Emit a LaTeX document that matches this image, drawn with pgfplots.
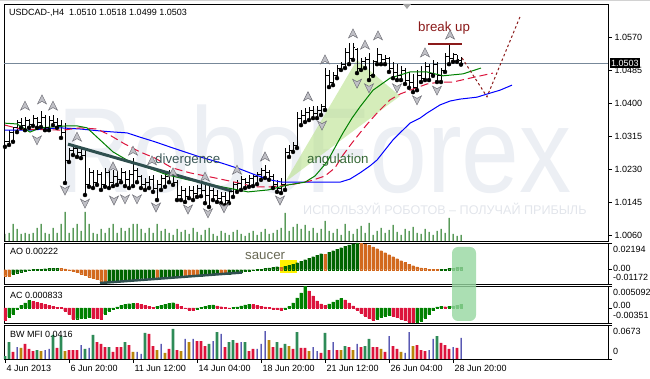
\documentclass[border=0pt]{standalone}
\usepackage{pgfplots}
\pgfplotsset{compat=1.18}
\usepackage{pgfplotstable}
\usepackage{graphicx}
\usepackage{fontspec}
\setmainfont{Liberation Sans}

\definecolor{maBlue}{RGB}{0,0,255}
\definecolor{maRed}{RGB}{220,20,60}
\definecolor{maGreen}{RGB}{0,128,0}
\definecolor{volG}{RGB}{0,100,0}
\definecolor{aoG}{RGB}{0,100,0}
\definecolor{aoO}{RGB}{210,105,30}
\definecolor{acG}{RGB}{0,128,0}
\definecolor{acR}{RGB}{220,20,60}
\definecolor{bwG}{RGB}{46,139,87}
\definecolor{bwR}{RGB}{220,20,60}
\definecolor{bwY}{RGB}{184,134,11}
\definecolor{bwB}{RGB}{0,0,139}
\definecolor{slate}{RGB}{47,79,79}
\definecolor{brk}{RGB}{139,26,26}
\definecolor{divtxt}{RGB}{60,88,88}
\definecolor{angtxt}{RGB}{55,105,55}
\definecolor{sauctxt}{RGB}{105,105,85}
\definecolor{angfill}{RGB}{185,225,140}
\definecolor{pline}{RGB}{119,136,153}
\definecolor{wm}{RGB}{236,239,244}
\definecolor{wmtwo}{RGB}{226,229,235}
\definecolor{fracF}{RGB}{192,192,198}
\definecolor{fracD}{RGB}{110,110,118}
\definecolor{boxG}{RGB}{150,215,160}

\newcommand{\lbl}{\fontsize{9}{10}\selectfont}
\newcommand{\ann}{\fontsize{13.3}{14}\selectfont}

\pgfdeclareplotmark{openL}{\pgfpathmoveto{\pgfqpoint{-1.8pt}{0pt}}\pgfpathlineto{\pgfqpoint{0pt}{0pt}}\pgfusepathqstroke}
\pgfdeclareplotmark{closeR}{\pgfpathmoveto{\pgfqpoint{0pt}{0pt}}\pgfpathlineto{\pgfqpoint{1.8pt}{0pt}}\pgfusepathqstroke}
\pgfdeclareplotmark{fup}{\pgfpathmoveto{\pgfqpoint{0pt}{5pt}}\pgfpathlineto{\pgfqpoint{4.5pt}{-4pt}}\pgfpathlineto{\pgfqpoint{0pt}{-1.5pt}}\pgfpathlineto{\pgfqpoint{-4.5pt}{-4pt}}\pgfpathclose\pgfusepathqfillstroke}
\pgfdeclareplotmark{fdown}{\pgfpathmoveto{\pgfqpoint{0pt}{-5pt}}\pgfpathlineto{\pgfqpoint{4.5pt}{4pt}}\pgfpathlineto{\pgfqpoint{0pt}{1.5pt}}\pgfpathlineto{\pgfqpoint{-4.5pt}{4pt}}\pgfpathclose\pgfusepathqfillstroke}

\pgfplotsset{panel/.style={scale only axis, width=604pt, xmin=-0.25, xmax=150.75, anchor=south west,
  axis line style={black, line width=0.8pt}, tick style={black, line width=0.6pt},
  tick align=outside, major tick length=4pt, ytick pos=right, yticklabel pos=right,
  scaled y ticks=false, scaled x ticks=false,
  xtick=\empty, yticklabel style={font=\lbl}}}

\pgfplotstableread{
i o h l c
0 1.0289 1.0305 1.0287 1.0302
1 1.0302 1.0330 1.0292 1.0325
2 1.0325 1.0338 1.0300 1.0336
3 1.0336 1.0356 1.0325 1.0351
4 1.0351 1.0361 1.0336 1.0343
5 1.0343 1.0364 1.0330 1.0356
6 1.0356 1.0359 1.0336 1.0346
7 1.0346 1.0369 1.0341 1.0361
8 1.0361 1.0364 1.0336 1.0351
9 1.0351 1.0379 1.0338 1.0364
10 1.0364 1.0369 1.0330 1.0338
11 1.0338 1.0367 1.0330 1.0356
12 1.0356 1.0369 1.0343 1.0351
13 1.0351 1.0361 1.0336 1.0343
14 1.0343 1.0356 1.0310 1.0325
15 1.0325 1.0348 1.0194 1.0253
16 1.0253 1.0284 1.0248 1.0279
17 1.0279 1.0292 1.0266 1.0284
18 1.0284 1.0287 1.0261 1.0274
19 1.0274 1.0284 1.0258 1.0266
20 1.0266 1.0279 1.0163 1.0189
21 1.0189 1.0233 1.0184 1.0222
22 1.0222 1.0227 1.0181 1.0196
23 1.0196 1.0227 1.0189 1.0215
24 1.0215 1.0222 1.0176 1.0189
25 1.0189 1.0233 1.0184 1.0222
26 1.0222 1.0225 1.0181 1.0196
27 1.0196 1.0227 1.0186 1.0212
28 1.0212 1.0225 1.0189 1.0202
29 1.0202 1.0233 1.0196 1.0222
30 1.0222 1.0225 1.0186 1.0202
31 1.0202 1.0227 1.0181 1.0215
32 1.0215 1.0258 1.0186 1.0227
33 1.0227 1.0233 1.0196 1.0212
34 1.0212 1.0215 1.0181 1.0191
35 1.0191 1.0207 1.0176 1.0196
36 1.0196 1.0212 1.0181 1.0202
37 1.0202 1.0215 1.0171 1.0181
38 1.0181 1.0202 1.0150 1.0191
39 1.0191 1.0215 1.0176 1.0207
40 1.0207 1.0222 1.0184 1.0212
41 1.0212 1.0227 1.0196 1.0217
42 1.0217 1.0222 1.0189 1.0196
43 1.0196 1.0202 1.0150 1.0163
44 1.0163 1.0186 1.0150 1.0176
45 1.0176 1.0181 1.0145 1.0160
46 1.0160 1.0186 1.0155 1.0176
47 1.0176 1.0186 1.0150 1.0166
48 1.0166 1.0189 1.0158 1.0181
49 1.0181 1.0196 1.0160 1.0176
50 1.0176 1.0191 1.0142 1.0163
51 1.0163 1.0186 1.0132 1.0176
52 1.0176 1.0181 1.0150 1.0163
53 1.0163 1.0176 1.0145 1.0155
54 1.0155 1.0171 1.0142 1.0160
55 1.0160 1.0171 1.0137 1.0150
56 1.0150 1.0176 1.0142 1.0171
57 1.0171 1.0196 1.0158 1.0189
58 1.0189 1.0202 1.0171 1.0194
59 1.0194 1.0212 1.0176 1.0202
60 1.0202 1.0207 1.0181 1.0196
61 1.0196 1.0215 1.0184 1.0207
62 1.0207 1.0217 1.0186 1.0212
63 1.0212 1.0222 1.0191 1.0217
64 1.0217 1.0233 1.0202 1.0227
65 1.0227 1.0240 1.0207 1.0222
66 1.0222 1.0227 1.0202 1.0212
67 1.0212 1.0217 1.0181 1.0191
68 1.0191 1.0202 1.0171 1.0181
69 1.0181 1.0207 1.0168 1.0189
70 1.0189 1.0284 1.0176 1.0274
71 1.0274 1.0292 1.0261 1.0279
72 1.0279 1.0300 1.0274 1.0292
73 1.0292 1.0377 1.0284 1.0361
74 1.0361 1.0382 1.0343 1.0369
75 1.0369 1.0387 1.0351 1.0377
76 1.0377 1.0390 1.0356 1.0382
77 1.0382 1.0392 1.0361 1.0372
78 1.0372 1.0392 1.0361 1.0382
79 1.0382 1.0397 1.0369 1.0392
80 1.0392 1.0490 1.0382 1.0472
81 1.0472 1.0485 1.0441 1.0454
82 1.0454 1.0480 1.0446 1.0470
83 1.0470 1.0498 1.0464 1.0490
84 1.0490 1.0506 1.0485 1.0500
85 1.0500 1.0542 1.0490 1.0531
86 1.0531 1.0555 1.0500 1.0516
87 1.0516 1.0555 1.0511 1.0542
88 1.0537 1.0542 1.0477 1.0490
89 1.0490 1.0516 1.0485 1.0506
90 1.0506 1.0518 1.0490 1.0511
91 1.0511 1.0529 1.0459 1.0472
92 1.0472 1.0511 1.0470 1.0506
93 1.0506 1.0542 1.0500 1.0524
94 1.0524 1.0526 1.0500 1.0511
95 1.0511 1.0524 1.0500 1.0516
96 1.0516 1.0518 1.0480 1.0490
97 1.0490 1.0506 1.0464 1.0480
98 1.0480 1.0500 1.0459 1.0470
99 1.0470 1.0495 1.0459 1.0485
100 1.0485 1.0490 1.0449 1.0459
101 1.0459 1.0480 1.0439 1.0454
102 1.0454 1.0475 1.0428 1.0439
103 1.0439 1.0485 1.0433 1.0470
104 1.0470 1.0495 1.0454 1.0464
105 1.0464 1.0506 1.0459 1.0495
106 1.0495 1.0500 1.0459 1.0475
107 1.0475 1.0511 1.0470 1.0500
108 1.0500 1.0506 1.0454 1.0470
109 1.0470 1.0490 1.0454 1.0485
110 1.0485 1.0529 1.0480 1.0521
111 1.0521 1.0549 1.0500 1.0516
112 1.0516 1.0529 1.0506 1.0524
113 1.0524 1.0524 1.0506 1.0511
114 1.0510 1.0518 1.0499 1.0503
}\ohlc

\begin{document}
\begin{tikzpicture}
\path[use as bounding box] (0,0) rectangle (650pt,379pt);
\fill[gray!35] (0,377.5pt) rectangle (650pt,379pt);
% watermark
\node[anchor=base west, text=wm, inner sep=0] at (57pt,186pt) {\scalebox{0.86}[1]{\fontsize{121}{121}\selectfont RoboForex}};
\node[anchor=base west, text=wmtwo, inner sep=0] at (303pt,164pt) {\fontsize{12.6}{13}\selectfont ИСПОЛЬЗУЙ РОБОТОВ – ПОЛУЧАЙ ПРИБЫЛЬ};

% volumes
\begin{axis}[panel, at={(4pt,138pt)}, height=237pt, ymin=0, ymax=23700, hide axis]
\addplot[ybar, bar width=1pt, bar shift=0pt, fill=volG, draw=none] coordinates {
(0,700)(1,800)(2,1700)(3,1200)(4,700)(5,800)(6,700)(7,800)(8,1300)(9,1700)(10,800)(11,700)(12,1300)(13,800)(14,1700)(15,2900)(16,800)(17,1300)(18,1700)(19,1000)(20,2900)(21,1700)(22,800)(23,700)(24,1200)(25,800)(26,1300)(27,1700)(28,800)(29,1300)(30,1000)(31,1300)(32,1700)(33,1700)(34,1200)(35,800)(36,1300)(37,800)(38,1700)(39,1000)(40,1200)(41,800)(42,600)(43,1200)(44,900)(45,1100)(46,700)(47,1300)(48,900)(49,600)(50,1100)(51,1300)(52,700)(53,500)(54,1000)(55,800)(56,600)(57,900)(58,1100)(59,700)(60,500)(61,800)(62,1000)(63,600)(64,900)(65,1200)(66,700)(67,800)(68,1100)(69,1300)(70,2800)(71,1000)(72,1400)(73,1700)(74,1200)(75,1600)(76,1000)(77,1300)(78,800)(79,1200)(80,2000)(81,1000)(82,800)(83,1200)(84,600)(85,1700)(86,1000)(87,700)(88,1200)(89,1500)(90,800)(91,1800)(92,600)(93,1000)(94,1300)(95,800)(96,1100)(97,1600)(98,900)(99,600)(100,1200)(101,1000)(102,1400)(103,800)(104,700)(105,1200)(106,900)(107,600)(108,1000)(109,1200)(110,800)(111,2300)(112,700)(113,500)(114,600)};
\end{axis}

% main price panel
\begin{axis}[panel, at={(4pt,138pt)}, height=237pt, ymin=1.00445, ymax=1.0655,
  ytick={1.0060,1.0145,1.0230,1.0315,1.0400,1.0485,1.0570},
  yticklabels={1.0060,1.0145,1.0230,1.0315,1.0400,1.0485,1.0570},
  yticklabel style={anchor=west, xshift=-1pt}]
\addplot[fill=angfill, fill opacity=0.6, draw=none] coordinates {(70,1.0196)(88,1.0511)(98.75,1.0418)} -- cycle;
\addplot[pline, line width=0.8pt] coordinates {(-0.25,1.0503)(150.75,1.0503)};
\addplot[only marks, mark=none, error bars/.cd, y dir=plus, y explicit, error mark=none,
  error bar style={draw=black, line width=1pt, solid}]
  table[x=i, y=l, y error plus expr={\thisrow{h}-\thisrow{l}}] {\ohlc};
\addplot[only marks, mark=openL, mark options={draw=black, line width=0.8pt}] table[x=i, y=o] {\ohlc};
\addplot[only marks, mark=closeR, mark options={draw=black, line width=0.8pt}] table[x=i, y=c] {\ohlc};
% alligator
\addplot[maBlue, line width=1pt] coordinates {(0,1.0330)(6.25,1.0330)(13.75,1.0336)(18.75,1.0333)(23.75,1.0328)(27.5,1.0325)(30.5,1.0323)(33.75,1.0312)(37.5,1.0300)(42,1.0284)(48.75,1.0261)(54.25,1.0245)(58.75,1.0230)(62.5,1.0215)(66.25,1.0202)(69.25,1.0196)(73.75,1.0196)(78.75,1.0196)(83.75,1.0196)(86.25,1.0204)(88.75,1.0220)(91.25,1.0238)(93,1.0253)(95,1.0279)(97,1.0305)(99.25,1.0328)(101.25,1.0348)(103.75,1.0361)(105.5,1.0374)(108.75,1.0395)(111.25,1.0405)(113.75,1.0410)(118,1.0415)(120.5,1.0423)(123.75,1.0433)(126.75,1.0446)};
\addplot[maRed, line width=1pt, dash pattern=on 8pt off 4pt] coordinates {(0,1.0343)(3.75,1.0333)(14.5,1.0330)(18.75,1.0336)(23,1.0333)(26.25,1.0317)(30,1.0294)(33.75,1.0274)(37.5,1.0258)(41.75,1.0233)(46.25,1.0220)(52.5,1.0207)(57.5,1.0196)(62.5,1.0184)(66.25,1.0184)(71.25,1.0189)(76.25,1.0199)(80,1.0212)(82.5,1.0233)(84.5,1.0266)(86.75,1.0297)(88.75,1.0323)(90.75,1.0348)(93,1.0374)(96.25,1.0408)(98.75,1.0423)(101.25,1.0433)(105.5,1.0449)(108.75,1.0454)(112,1.0454)(116.25,1.0464)(122,1.0477)};
\addplot[maGreen, line width=1pt] coordinates {(0,1.0348)(3,1.0346)(6.25,1.0325)(8.75,1.0336)(15.5,1.0341)(18,1.0341)(20.5,1.0336)(23.75,1.0305)(27,1.0274)(30.5,1.0253)(34.5,1.0238)(40.5,1.0215)(45.75,1.0202)(48.75,1.0196)(54.25,1.0184)(60.75,1.0171)(65.75,1.0176)(70.75,1.0189)(75,1.0196)(77.5,1.0212)(80.5,1.0248)(84.5,1.0323)(86.75,1.0361)(88.75,1.0390)(92,1.0433)(96.25,1.0464)(101.25,1.0480)(105.5,1.0480)(109.5,1.0470)(114.5,1.0475)(119,1.0490)};
% divergence line
\addplot[slate, line width=3pt] coordinates {(15.75,1.0294)(56.75,1.0173)};
% fractals
\addplot[only marks, mark=fup, mark options={fill=fracF, draw=fracD, line width=0.5pt}] coordinates {(5,1.0392)(9.25,1.0408)(12,1.0392)(18,1.0312)(27,1.0235)(32,1.0276)(36.75,1.0251)(42,1.0220)(50,1.0209)(58,1.0227)(65,1.0261)(75.75,1.0416)(80,1.0511)(87,1.0578)(90,1.0549)(93.25,1.0573)(105,1.0529)(111.25,1.0575)};
\addplot[only marks, mark=fdown, mark options={fill=fracF, draw=fracD, line width=0.5pt}] coordinates {(8,1.0305)(15,1.0176)(20,1.0142)(27.25,1.0150)(30,1.0153)(33,1.0153)(37.75,1.0132)(45.75,1.0127)(50.75,1.0117)(54.75,1.0130)(68.75,1.0150)(79.25,1.0343)(88,1.0451)(91,1.0439)(98,1.0439)(103,1.0408)(108,1.0433)};
% break up
\addplot[brk, line width=2pt] coordinates {(105.75,1.0552)(114.25,1.0552)};
\addplot[brk, line width=1pt, dash pattern=on 2.5pt off 2.5pt] coordinates {(114.25,1.0516)(120.5,1.0416)(128.75,1.0622)};
\node[anchor=base west, text=brk, font=\ann, inner sep=0] at (axis cs:103.25,1.0583) {break up};
\node[anchor=base west, text=divtxt, font=\ann, inner sep=0] at (axis cs:37.5,1.0245) {divergence};
\node[anchor=base west, text=angtxt, font=\ann, inner sep=0] at (axis cs:75.5,1.0245) {angulation};
\coordinate (pl) at (axis cs:150.75,1.0503);
\end{axis}

% AO
\begin{axis}[panel, at={(4pt,95pt)}, height=41pt, ymin=-0.01172, ymax=0.02194, ytick={-0.01172,0,0.02194}, yticklabels={,,}]
\addplot[fill=yellow, draw=none] coordinates {(68.8,-0.0027)(73,-0.0027)(73,0.0080)(68.8,0.0080)} -- cycle;
\addplot[ybar, bar width=2.6pt, bar shift=0pt, fill=aoG, draw=aoG, line width=0.3pt] coordinates {(2,-0.00369)(3,-0.00246)(4,-0.00164)(5,-0.00099)(6,-0.00049)(7,0.00025)(8,0.00041)(9,0.00057)(10,0.00082)(11,0.00099)(12,0.00107)(13,0.00115)(26,-0.00985)(27,-0.00961)(28,-0.00936)(29,-0.00903)(30,-0.0087)(31,-0.00837)(32,-0.00805)(33,-0.00772)(34,-0.00739)(35,-0.00706)(36,-0.00673)(37,-0.0064)(39,-0.00624)(40,-0.00591)(41,-0.00558)(42,-0.00525)(43,-0.00501)(44,-0.00476)(49,-0.00493)(50,-0.0046)(51,-0.00427)(52,-0.00394)(53,-0.00361)(56,-0.00328)(57,-0.00279)(58,-0.0023)(59,-0.00181)(60,-0.00131)(61,-0.00082)(62,-0.00041)(63,0.00025)(64,0.00057)(65,0.00099)(66,0.00148)(67,0.00197)(68,0.00246)(70,0.00279)(71,0.00361)(72,0.00452)(73,0.00575)(74,0.00698)(75,0.00821)(76,0.00944)(77,0.01067)(78,0.0119)(79,0.01314)(81,0.01437)(82,0.0156)(83,0.01683)(84,0.01806)(85,0.01929)(86,0.02036)(87,0.02118)(88,0.02194)(109,0.00033)(110,0.00049)(111,0.00099)(112,0.00131)(113,0.00172)(114,0.00222)};
\addplot[ybar, bar width=2.6pt, bar shift=0pt, fill=aoO, draw=aoO, line width=0.3pt] coordinates {(0,-0.00493)(1,-0.00534)(14,0.00107)(15,0.00066)(16,-0.00025)(17,-0.00123)(18,-0.00222)(19,-0.00328)(20,-0.00452)(21,-0.00575)(22,-0.00698)(23,-0.00805)(24,-0.00903)(25,-0.01002)(38,-0.00657)(45,-0.00493)(46,-0.00509)(47,-0.00517)(48,-0.00525)(54,-0.00369)(55,-0.00378)(69,0.00222)(80,0.01281)(89,0.02159)(90,0.02094)(91,0.01995)(92,0.01872)(93,0.01724)(94,0.0156)(95,0.01396)(96,0.01232)(97,0.01067)(98,0.00903)(99,0.00739)(100,0.00591)(101,0.00452)(102,0.00328)(103,0.0023)(104,0.00148)(105,0.0009)(106,0.00057)(107,0.00033)(108,0.00025)};
\addplot[slate, line width=2.5pt] coordinates {(23.75,-0.01092)(59.25,-0.0023)};
\node[anchor=base west, text=sauctxt, font=\ann, inner sep=0] at (axis cs:60,0.0080) {saucer};
\end{axis}

% AC
\begin{axis}[panel, at={(4pt,56pt)}, height=37pt, ymin=-0.00351, ymax=0.005092, ytick={-0.00351,0,0.005092}, yticklabels={,,}]
\addplot[ybar, bar width=2.6pt, bar shift=0pt, fill=acG, draw=acG, line width=0.3pt] coordinates {(1,-0.00209)(2,-0.0014)(3,-0.00023)(4,0.00058)(5,0.00116)(6,0.00174)(18,-0.00251)(19,-0.00244)(20,-0.00233)(21,-0.00221)(25,-0.0014)(26,-0.0007)(27,-0.00023)(28,0.00023)(29,0.00058)(30,0.00081)(31,0.00098)(32,0.00107)(38,0.00035)(39,0.00058)(40,0.00081)(41,0.00105)(42,0.00121)(48,-0.00023)(49,0.00012)(50,0.00035)(51,0.00058)(52,0.0007)(57,0.00007)(58,0.00023)(59,0.00047)(60,0.0007)(61,0.00088)(70,-0.00023)(71,0.00035)(72,0.00116)(73,0.00233)(74,0.00349)(75,0.00509)(81,0.00093)(82,0.0014)(83,0.00186)(84,0.00219)(93,-0.00256)(94,-0.00221)(95,-0.00193)(96,-0.0017)(103,-0.00339)(104,-0.00302)(105,-0.00233)(106,-0.00151)(107,-0.00058)(108,0.00023)(109,0.00035)(111,0.00037)(112,0.00047)(113,0.00065)(114,0.000833)};
\addplot[ybar, bar width=2.6pt, bar shift=0pt, fill=acR, draw=acR, line width=0.3pt] coordinates {(0,-0.00286)(7,0.00151)(8,0.00128)(9,0.00105)(10,0.00081)(11,0.00058)(12,0.00035)(13,0.00019)(14,0.00007)(15,-0.0007)(16,-0.00151)(17,-0.00256)(22,-0.00233)(23,-0.00244)(24,-0.00256)(33,0.001)(34,0.00081)(35,0.00058)(36,0.00035)(37,0.00019)(43,0.00093)(44,0.00035)(45,-0.00012)(46,-0.00047)(47,-0.00058)(53,0.00047)(54,0.00028)(55,0.00009)(56,-0.00007)(62,0.00077)(63,0.00058)(64,0.00042)(65,0.00023)(66,0.00007)(67,-0.00019)(68,-0.00035)(69,-0.00051)(76,0.00395)(77,0.00279)(78,0.00163)(79,0.00093)(80,0.00058)(85,0.00186)(86,0.00116)(87,0.00047)(88,-0.00047)(89,-0.00116)(90,-0.00186)(91,-0.00244)(92,-0.00286)(97,-0.00186)(98,-0.00221)(99,-0.00256)(100,-0.00291)(101,-0.00326)(102,-0.00351)(110,0.00028)};
\end{axis}

% BW MFI
\begin{axis}[panel, at={(4pt,20pt)}, height=34pt, ymin=0, ymax=0.0673, ytick={0,0.0673}, yticklabels={,},
  xtick={0,16,32,48,64,80,96,112}, xtick pos=bottom,
  xticklabels={4 Jun 2013,6 Jun 20:00,11 Jun 12:00,14 Jun 04:00,18 Jun 20:00,21 Jun 12:00,26 Jun 04:00,28 Jun 20:00},
  xticklabel style={font=\lbl, anchor=north west, xshift=-2pt, yshift=1pt}]
\addplot[ybar, bar width=2.6pt, bar shift=0pt, fill=bwG, draw=none] coordinates {(0,0.0059)(1,0.0336)(8,0.0178)(12,0.0475)(14,0.0455)(20,0.0198)(22,0.0475)(26,0.0237)(30,0.0336)(35,0.0515)(42,0.0594)(51,0.0297)(53,0.0534)(56,0.0336)(57,0.0376)(60,0.0336)(68,0.0336)(70,0.0297)(73,0.0534)(80,0.0515)(85,0.0257)(90,0.0257)(91,0.0396)(108,0.0455)};
\addplot[ybar, bar width=2.6pt, bar shift=0pt, fill=bwR, draw=none] coordinates {(2,0.0139)(5,0.0297)(6,0.0198)(7,0.0158)(13,0.0218)(16,0.0178)(17,0.0178)(18,0.0178)(23,0.0336)(24,0.0297)(25,0.0237)(27,0.0139)(28,0.0237)(29,0.0237)(31,0.0277)(36,0.0495)(37,0.0257)(41,0.0198)(43,0.0178)(48,0.0356)(49,0.0356)(50,0.0257)(55,0.0237)(58,0.0317)(61,0.0158)(62,0.0198)(67,0.0237)(69,0.0218)(72,0.0198)(74,0.0218)(75,0.0218)(79,0.0119)(81,0.0178)(83,0.0178)(86,0.0237)(89,0.0237)(92,0.0237)(93,0.0237)(95,0.0139)(97,0.0257)(98,0.0198)(103,0.0277)(104,0.0178)(105,0.0158)(109,0.0317)(110,0.0277)(111,0.0198)(113,0.0218)};
\addplot[ybar, bar width=2.6pt, bar shift=0pt, fill=bwY, draw=none] coordinates {(4,0.0218)(9,0.0158)(15,0.0158)(32,0.0139)(38,0.0178)(40,0.0119)(44,0.0158)(46,0.0336)(66,0.0376)(71,0.0257)(76,0.0158)(84,0.0178)(87,0.0178)(94,0.0198)(99,0.0139)(102,0.0257)};
\addplot[ybar, bar width=1pt, bar shift=0pt, fill=bwB, draw=none] coordinates {(3,0.0237)(10,0.0178)(11,0.0198)(19,0.0277)(21,0.0218)(33,0.0139)(34,0.0099)(39,0.0297)(45,0.0396)(47,0.0396)(52,0.0356)(54,0.0495)(59,0.0336)(63,0.0198)(64,0.0297)(65,0.0554)(77,0.0237)(78,0.0158)(82,0.0336)(88,0.0297)(96,0.0455)(100,0.0119)(101,0.0534)(106,0.0178)(107,0.0396)(112,0.0237)(114,0.0416)};
\end{axis}

% overlays and labels
\fill[boxG, fill opacity=0.8, rounded corners=6pt] (452pt,58pt) rectangle (476pt,132pt);
\fill[gray!70] (403pt,375pt) -- (411pt,375pt) -- (407pt,370pt) -- cycle;
\node[anchor=west, fill=black, text=white, font=\lbl, inner xsep=1.5pt, inner ysep=1.5pt] at ([xshift=1.5pt]pl) {1.0503};
\node[anchor=base west, font=\lbl, inner sep=0] at (9pt,363pt) {USDCAD-,H4\ \ 1.0510 1.0518 1.0499 1.0503};
\node[anchor=base west, font=\lbl, inner sep=0] at (10pt,124pt) {AO 0.00222};
\node[anchor=base west, font=\lbl, inner sep=0] at (10pt,80pt) {AC 0.000833};
\node[anchor=base west, font=\lbl, inner sep=0] at (10pt,41.5pt) {BW MFI 0.0416};
\node[anchor=base west, font=\lbl, inner sep=0] at (613pt,126pt) {0.02194};
\node[anchor=base west, font=\lbl, inner sep=0] at (613pt,107.3pt) {0.00};
\node[anchor=base west, font=\lbl, inner sep=0] at (613pt,98.3pt) {-0.01172};
\node[anchor=base west, font=\lbl, inner sep=0] at (613pt,83pt) {0.005092};
\node[anchor=base west, font=\lbl, inner sep=0] at (613pt,70pt) {0.00};
\node[anchor=base west, font=\lbl, inner sep=0] at (613pt,60.7pt) {-0.00351};
\node[anchor=base west, font=\lbl, inner sep=0] at (613pt,44pt) {0.0673};
\node[anchor=base west, font=\lbl, inner sep=0] at (613pt,24pt) {0};
\end{tikzpicture}
\end{document}
